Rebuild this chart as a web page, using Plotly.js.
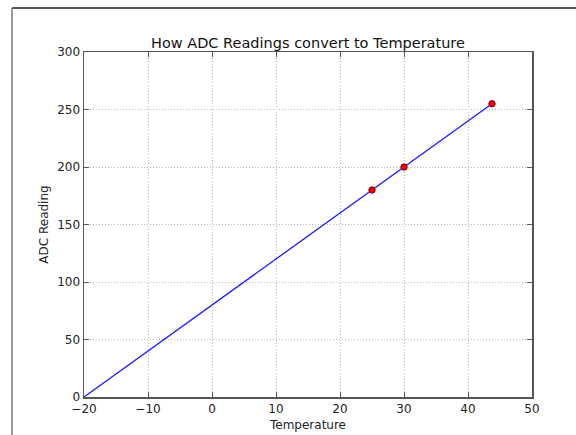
<!DOCTYPE html>
<html>
<head>
<meta charset="utf-8">
<script src="https://cdn.plot.ly/plotly-3.0.1.min.js"></script>
<style>html,body{margin:0;padding:0;background:#fff;}#chart{width:576px;height:435px;}</style>
</head>
<body>
<div id="chart"></div>
<script>
const lineTemps = [-20, 43.75];
const lineReadings = [0, 255];
const pointTemps = [25, 30, 43.75];
const pointReadings = [180, 200, 255];
const xTicks = [-20, -10, 0, 10, 20, 30, 40, 50];
const xTickLabels = ['\u221220', '\u221210', '0', '10', '20', '30', '40', '50'];
const yTicks = [0, 50, 100, 150, 200, 250, 300];

const font = 'DejaVu Sans, sans-serif';
const traces = [
  {x: lineTemps, y: lineReadings, mode: 'lines', line: {color: '#1a1aff', width: 1.3}, hoverinfo: 'none'},
  {x: pointTemps, y: pointReadings, mode: 'markers',
   marker: {color: '#ee0000', size: 6.5, line: {color: '#660000', width: 0.8}}, hoverinfo: 'none'}
];
const axisCommon = {
  showline: true, linecolor: '#555', linewidth: 1.5, mirror: 'allticks',
  ticks: 'inside', ticklen: 5, tickcolor: '#555', tickwidth: 1,
  showgrid: true, gridcolor: '#b8b8b8', griddash: '1px,2px', gridwidth: 1,
  zeroline: false, tickfont: {family: font, size: 12, color: '#222'}
};
const layout = {
  width: 576, height: 435,
  margin: {l: 84, r: 44, t: 52, b: 38},
  paper_bgcolor: '#fff', plot_bgcolor: '#fff',
  showlegend: false,
  title: {text: 'How ADC Readings convert to Temperature', font: {family: font, size: 14.5, color: '#111'},
          x: 0.5, xref: 'paper', y: 1, yref: 'paper', yanchor: 'bottom', pad: {b: 4}},
  xaxis: Object.assign({}, axisCommon, {range: [-20, 50], tickvals: xTicks, ticktext: xTickLabels,
    title: {text: 'Temperature', font: {family: font, size: 12, color: '#222'}, standoff: 5}}),
  yaxis: Object.assign({}, axisCommon, {range: [0, 300], tickvals: yTicks,
    title: {text: 'ADC Reading', font: {family: font, size: 12, color: '#222'}, standoff: 6}}),
  shapes: [
    {type: 'line', xref: 'paper', yref: 'paper', x0: -0.1607, x1: 1.2, y0: 1.1275, y1: 1.1275,
     line: {color: '#222', width: 1.5}},
    {type: 'line', xref: 'paper', yref: 'paper', x0: -0.1607, x1: -0.1607, y0: -0.2, y1: 1.1275,
     line: {color: '#777', width: 1.5}}
  ]
};
Plotly.newPlot('chart', traces, layout, {staticPlot: true, displayModeBar: false});
</script>
</body>
</html>
